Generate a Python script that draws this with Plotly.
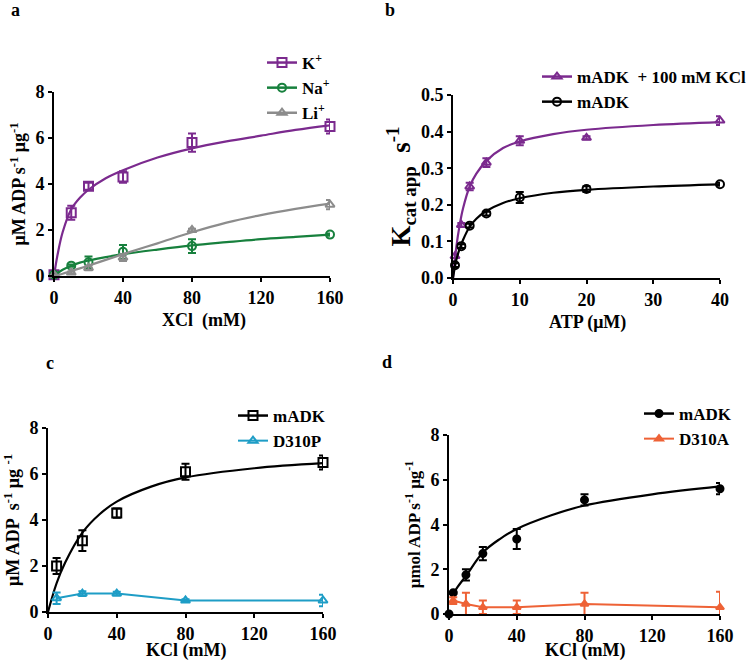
import plotly.graph_objects as go

# ---------------- data ----------------
# Panel a
a_x = [0, 10, 20, 40, 80, 160]
a_K = [0.05, 2.75, 3.9, 4.3, 5.8, 6.5]
a_K_err = [0.0, 0.3, 0.15, 0.25, 0.4, 0.3]
a_Na = [0.05, 0.45, 0.6, 1.05, 1.3, 1.8]
a_Na_err = [0.0, 0.05, 0.25, 0.3, 0.3, 0.05]
a_Li = [0.05, 0.15, 0.35, 0.8, 2.0, 3.1]
a_Li_err = [0.0, 0.05, 0.1, 0.15, 0.05, 0.2]
a_fit_x = [0, 2, 5, 10, 15, 20, 30, 40, 60, 80, 100, 120, 140, 160]
a_K_fit = [0, 0.9, 1.9, 2.9, 3.4, 3.75, 4.25, 4.6, 5.15, 5.55, 5.85, 6.1, 6.35, 6.55]
a_Na_fit = [0, 0.12, 0.27, 0.45, 0.58, 0.67, 0.82, 0.95, 1.15, 1.33, 1.47, 1.6, 1.7, 1.8]
a_Li_fit = [0, 0.04, 0.1, 0.22, 0.33, 0.45, 0.7, 0.95, 1.42, 1.9, 2.32, 2.65, 2.92, 3.15]

# Panel b
b_x = [0.3, 1.25, 2.5, 5, 10, 20, 40]
b_KCl = [0.06, 0.145, 0.25, 0.315, 0.375, 0.383, 0.43]
b_KCl_err = [0.005, 0.005, 0.01, 0.012, 0.012, 0.004, 0.012]
b_m = [0.035, 0.087, 0.143, 0.176, 0.22, 0.243, 0.256]
b_m_err = [0.005, 0.005, 0.005, 0.005, 0.015, 0.008, 0.004]
b_fit_x = [0, 0.5, 1, 1.5, 2.5, 3.5, 5, 7.5, 10, 15, 20, 30, 40]
b_KCl_fit = [0, 0.085, 0.145, 0.19, 0.25, 0.285, 0.32, 0.355, 0.373, 0.393, 0.405, 0.418, 0.426]
b_m_fit = [0, 0.05, 0.08, 0.104, 0.14, 0.162, 0.183, 0.205, 0.218, 0.233, 0.241, 0.25, 0.256]

# Panel c
c_x = [5, 20, 40, 80, 160]
c_m = [2.0, 3.1, 4.3, 6.1, 6.5]
c_m_err = [0.35, 0.45, 0.2, 0.35, 0.3]
c_P = [0.6, 0.8, 0.8, 0.5, 0.5]
c_P_err = [0.25, 0.1, 0.08, 0.05, 0.25]
c_fit_x = [0, 5, 10, 20, 30, 40, 60, 80, 120, 160]
c_m_fit = [0, 1.25, 2.15, 3.45, 4.25, 4.8, 5.45, 5.85, 6.25, 6.47]

# Panel d
d_x = [0, 2.5, 10, 20, 40, 80, 160]
d_m = [0, 0.95, 1.75, 2.7, 3.35, 5.1, 5.6]
d_m_err = [0, 0.05, 0.25, 0.3, 0.45, 0.25, 0.25]
d_A_x = [2.5, 10, 20, 40, 80, 160]
d_A = [0.6, 0.45, 0.3, 0.3, 0.45, 0.3]
d_A_err = [0.15, 0.5, 0.3, 0.3, 0.5, 0.7]
d_fit_x = [2.5, 5, 10, 20, 30, 40, 60, 80, 120, 160]
d_m_fit = [0.9, 1.2, 1.7, 2.75, 3.35, 3.8, 4.4, 4.85, 5.35, 5.7]

# ---------------- style ----------------
PURPLE = "#7b2a8e"
GREEN = "#17803d"
GRAY = "#8c8c8c"
CYAN = "#1e9dc6"
ORANGE = "#ee6236"
BLACK = "#000000"
FONT = "Liberation Serif"

fig = go.Figure()


def add_series(xs, ys, errs, color, symbol, name, xa, ya, legend,
               fit_x=None, fit_y=None, connect=False, size=8):
    fig.add_trace(go.Scatter(
        x=xs, y=ys, mode="lines+markers" if connect else "markers",
        line=dict(color=color, width=2),
        marker=dict(symbol=symbol, size=size, color=color,
                    line=dict(color=color, width=2)),
        error_y=dict(type="data", array=errs, color=color, thickness=2, width=4),
        xaxis=xa, yaxis=ya, showlegend=connect, name=name, legend=legend,
        cliponaxis=False))
    if fit_x is not None:
        fig.add_trace(go.Scatter(
            x=fit_x, y=fit_y, mode="lines", line=dict(color=color, width=2.2, shape="spline"),
            xaxis=xa, yaxis=ya, showlegend=False, hoverinfo="skip", cliponaxis=False))
    if not connect:
        fig.add_trace(go.Scatter(
            x=[None], y=[None], mode="lines+markers", name=name, legend=legend,
            line=dict(color=color, width=2.5),
            marker=dict(symbol=symbol, size=size, color=color, line=dict(color=color, width=2)),
            xaxis=xa, yaxis=ya, showlegend=True))


# a
add_series(a_x, a_K, a_K_err, PURPLE, "square-open", "K<sup>+</sup>", "x", "y", "legend", a_fit_x, a_K_fit, size=9)
add_series(a_x, a_Na, a_Na_err, GREEN, "circle-open", "Na<sup>+</sup>", "x", "y", "legend", a_fit_x, a_Na_fit)
add_series(a_x, a_Li, a_Li_err, GRAY, "triangle-up-open", "Li<sup>+</sup>", "x", "y", "legend", a_fit_x, a_Li_fit)
# b
add_series(b_x, b_KCl, b_KCl_err, PURPLE, "triangle-up-open", "mADK  + 100 mM KCl", "x2", "y2", "legend2", b_fit_x, b_KCl_fit)
add_series(b_x, b_m, b_m_err, BLACK, "circle-open", "mADK", "x2", "y2", "legend2", b_fit_x, b_m_fit)
# c
add_series(c_x, c_m, c_m_err, BLACK, "square-open", "mADK", "x3", "y3", "legend3", c_fit_x, c_m_fit, size=9)
add_series(c_x, c_P, c_P_err, CYAN, "triangle-up-open", "D310P", "x3", "y3", "legend3", connect=True)
# d
add_series(d_x, d_m, d_m_err, BLACK, "circle", "mADK", "x4", "y4", "legend4", d_fit_x, d_m_fit, size=7)
add_series(d_A_x, d_A, d_A_err, ORANGE, "triangle-up", "D310A", "x4", "y4", "legend4", connect=True, size=7)

W, H = 750, 662


def px_x(p):
    return p / W


def px_y(p):
    return 1 - p / H


tickfont = dict(family=FONT, size=18, color="black", weight="bold")


def xaxis(dom, anchor, rng, dtick):
    return dict(domain=dom, anchor=anchor, range=rng, dtick=dtick, tick0=0,
                showline=True, linecolor="black", linewidth=2, ticks="outside",
                ticklen=4, tickwidth=2, tickcolor="black", showgrid=False, zeroline=False,
                tickfont=tickfont, automargin=False)


def yaxis(dom, anchor, rng, dtick, title, fmt=None, tsize=18, standoff=5):
    d = dict(domain=dom, anchor=anchor, range=rng, dtick=dtick, tick0=0,
             showline=True, linecolor="black", linewidth=2, ticks="outside",
             ticklen=4, tickwidth=2, tickcolor="black", showgrid=False, zeroline=False,
             tickfont=tickfont, automargin=False,
             title=dict(text=title, font=dict(family=FONT, size=tsize, color="black", weight="bold"),
                        standoff=standoff))
    if fmt:
        d["tickformat"] = fmt
    return d


legfont = dict(family=FONT, size=17, color="black", weight="bold")

fig.update_layout(
    width=W, height=H, margin=dict(l=0, r=0, t=0, b=0, autoexpand=False),
    plot_bgcolor="white", paper_bgcolor="white",
    font=dict(family=FONT, color="black"),
    xaxis=xaxis([px_x(54), px_x(330)], "y", [0, 160], 40),
    yaxis=yaxis([px_y(276), px_y(92)], "x", [0, 8], 2, "μM ADP s<sup>-1</sup> μg<sup>-1</sup>"),
    xaxis2=xaxis([px_x(453), px_x(720)], "y2", [0, 40], 10),
    yaxis2=yaxis([px_y(278), px_y(95)], "x2", [0, 0.5], 0.1,
                 "K<sub>cat app</sub>  s<sup>-1</sup>", fmt=".1f", tsize=27, standoff=2),
    xaxis3=xaxis([px_x(48), px_x(323)], "y3", [0, 160], 40),
    yaxis3=yaxis([px_y(612), px_y(428)], "x3", [0, 8], 2, "μM ADP  s<sup>-1</sup> μg <sup>-1</sup>"),
    xaxis4=xaxis([px_x(449), px_x(720)], "y4", [0, 160], 40),
    yaxis4=yaxis([px_y(614), px_y(435)], "x4", [0, 8], 2, "μmol ADP s<sup>-1</sup> μg<sup>-1</sup>", tsize=17),
    legend=dict(x=px_x(262), y=px_y(45), xanchor="left", yanchor="top", font=legfont,
                bgcolor="rgba(0,0,0,0)", tracegroupgap=0, itemwidth=30),
    legend2=dict(x=px_x(537), y=px_y(59), xanchor="left", yanchor="top", font=legfont,
                 bgcolor="rgba(0,0,0,0)", itemwidth=30),
    legend3=dict(x=px_x(233), y=px_y(398), xanchor="left", yanchor="top", font=legfont,
                 bgcolor="rgba(0,0,0,0)", itemwidth=30),
    legend4=dict(x=px_x(639), y=px_y(396), xanchor="left", yanchor="top", font=legfont,
                 bgcolor="rgba(0,0,0,0)", itemwidth=30),
    showlegend=True,
)

# x-axis titles
for txt, xp, yp in [("XCl  (mM)", 204, 320), ("ATP (μM)", 587, 322),
                    ("KCl (mM)", 186, 650), ("KCl (mM)", 585, 650)]:
    fig.add_annotation(text=txt, x=px_x(xp), y=px_y(yp), xref="paper", yref="paper",
                       showarrow=False, font=dict(family=FONT, size=18, color="black", weight="bold"),
                       xanchor="center", yanchor="middle")

# panel letters
for lbl, xp, yp in [("a", 15, 10), ("b", 390, 10), ("c", 50, 363), ("d", 387, 362)]:
    fig.add_annotation(text=lbl, x=px_x(xp), y=px_y(yp), xref="paper", yref="paper",
                       showarrow=False, font=dict(family=FONT, size=18, color="black", weight="bold"),
                       xanchor="center", yanchor="middle")

fig.write_html("out.html", config={"displayModeBar": False},
               post_script="document.body.style.margin='0px';document.body.style.overflow='hidden';")
